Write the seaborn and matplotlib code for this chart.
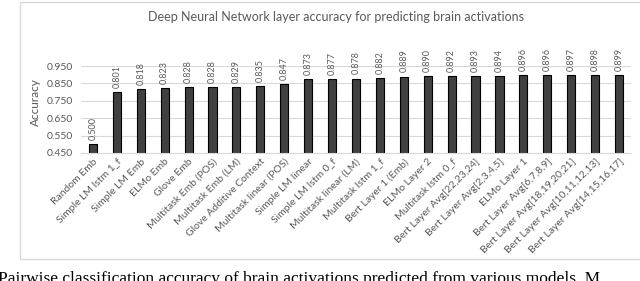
import matplotlib
matplotlib.use("Agg")
import matplotlib.pyplot as plt
import seaborn as sns
import pandas as pd
from matplotlib.patches import Rectangle

# data
models = [
    "Random Emb", "Simple LM lstm 1_f", "Simple LM Emb", "ELMo Emb", "Glove Emb",
    "Multitask Emb (POS)", "Multitask Emb (LM)", "Glove Additive Context",
    "Multitask linear (POS)", "Simple LM linear", "Simple LM lstm 0_f",
    "Multitask linear (LM)", "Multitask lstm 1_f", "Bert Layer 1 (Emb)",
    "ELMo Layer 2", "Multitask lstm 0_f", "Bert Layer Avg[22,23,24]",
    "Bert Layer Avg[2,3,4,5]", "ELMo Layer 1", "Bert Layer Avg[6,7,8,9]",
    "Bert Layer Avg[18,19,20,21]", "Bert Layer Avg[10,11,12,13]",
    "Bert Layer Avg[14,15,16,17]",
]
accuracy = [0.500, 0.801, 0.818, 0.823, 0.828, 0.828, 0.829, 0.835, 0.847,
            0.873, 0.877, 0.878, 0.882, 0.889, 0.890, 0.892, 0.893, 0.894,
            0.896, 0.896, 0.897, 0.898, 0.899]
yticks = [0.450, 0.550, 0.650, 0.750, 0.850, 0.950]

df = pd.DataFrame({"model": models, "accuracy": accuracy})

sns.set_style("white")
plt.rcParams["font.family"] = ["Lato", "DejaVu Sans"]
txt = "#595959"

fig = plt.figure(figsize=(6.4, 2.81), dpi=100)
# chart frame (Excel-like border)
fig.patches.append(Rectangle((20 / 640, 1 - 259 / 281), 1.0, 257 / 281,
                             transform=fig.transFigure, fill=False,
                             edgecolor="#d9d9d9", linewidth=1.0))

ax = fig.add_axes([81 / 640, 1 - 153 / 281, 550 / 640, 87 / 281])
sns.barplot(data=df, x="model", y="accuracy", color="#404040", width=0.34,
            edgecolor="black", linewidth=0.8, saturation=1, ax=ax)

ax.set_ylim(0.45, 0.95)
ax.set_xlim(-0.5, len(models) - 0.5)
ax.set_yticks(yticks)
ax.set_yticklabels([f"{v:.3f}" for v in yticks], color=txt, fontsize=7.5)
ax.yaxis.grid(True, color="#d9d9d9", linewidth=0.8)
ax.set_axisbelow(True)
for s in ["top", "right", "left"]:
    ax.spines[s].set_visible(False)
ax.spines["bottom"].set_color("#d9d9d9")
ax.tick_params(axis="y", length=0, pad=6)
ax.set_xticks(range(len(models)))
ax.set_xticklabels(models, rotation=45, ha="right", rotation_mode="anchor",
                   color=txt, fontsize=7.5)
ax.tick_params(axis="x", length=0, pad=3)
ax.set_xlabel("")
ax.set_ylabel("")

for i, v in enumerate(accuracy):
    ax.annotate(f"{v:.3f}", (i, v), xytext=(0, 3), textcoords="offset points",
                rotation=90, ha="center", va="bottom", fontsize=6.5,
                color=txt, annotation_clip=False)

fig.text(35 / 640, 1 - 102 / 281, "Accuracy", rotation=90, ha="center",
         va="center", color=txt, fontsize=8.5)
fig.text(336 / 640, 1 - 17 / 281,
         "Deep Neural Network layer accuracy for predicting brain activations",
         ha="center", va="center", color=txt, fontsize=9)
# caption below the chart, cut off by the image edge as in the reference
fig.text(-2 / 640, 1 - 271 / 281,
         "Pairwise classification accuracy of brain activations predicted from various models. M",
         ha="left", va="top", fontsize=12.5, family="Liberation Serif", color="black")

fig.savefig("out.png", dpi=100)
